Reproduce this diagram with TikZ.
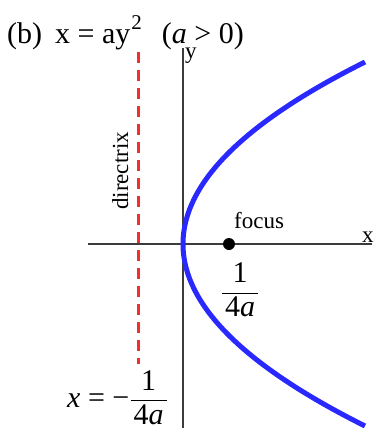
\documentclass[tikz,border=0pt]{standalone}
\usepackage{amsmath}
\usepackage{fontspec}
\setmainfont{Liberation Serif}
\definecolor{curveblue}{RGB}{40,40,255}
\definecolor{dirred}{RGB}{245,45,45}
\definecolor{axisgray}{RGB}{60,60,60}
\newcommand{\padfrac}[2]{\genfrac{}{}{}{0}{\text{#1}}{\text{\kern3pt#2\kern3pt}}}
\begin{document}
\begin{tikzpicture}[x=1pt,y=-1pt,
  axisline/.style={draw=axisgray,line width=1.8pt},
  dirline/.style={draw=dirred,line width=3pt,dash pattern=on 11pt off 7pt},
  curve/.style={draw=curveblue,line width=5pt},
  lbl/.style={inner sep=0pt,font=\fontsize{23}{27}\selectfont},
  eqn/.style={inner sep=0pt,font=\fontsize{30}{34}\selectfont},
  ttl/.style={inner sep=0pt,font=\fontsize{30}{34}\selectfont}]
\useasboundingbox (0,0) rectangle (376,432);
% axes
\coordinate (xl) at (88,244);
\coordinate (xr) at (372,244);
\coordinate (yt) at (183,48);
\coordinate (yb) at (183,428);
\draw[axisline] (xl) -- (xr);
\draw[axisline] (yt) -- (yb);
% directrix
\coordinate (dt) at (138,52);
\coordinate (db) at (138,364);
\draw[dirline] (dt) -- (db);
% parabola x = y^2/182
\draw[curve] plot[domain=-1:1,samples=80,smooth] ({183+182*\x*\x},{244+182*\x});
% focus
\node[circle,fill=black,inner sep=0pt,minimum size=12pt] (focus) at (229,244) {};
% labels
\node[ttl,anchor=base west] (title) at (7,43) {(b)\hspace{13pt}x = ay\kern1pt\raisebox{14pt}{\fontsize{21}{21}\selectfont 2}\hspace{20pt}(\textit{a} > 0)};
\node[lbl,anchor=base west] (ylab) at (185,58) {y};
\node[lbl,anchor=base west] (xlab) at (362,242) {x};
\node[lbl,anchor=base west] (foclab) at (234,228) {focus};
\node[lbl,anchor=base west,rotate=90] (dirlab) at (128,210) {directrix};
\node[eqn,anchor=base] (flab) at (240,299.5) {$\padfrac{1}{4\textit{a}}$};
\node[eqn,anchor=base west] (dlab) at (67,407) {\textit{x} = −$\padfrac{1}{4\textit{a}}$};
\end{tikzpicture}
\end{document}
